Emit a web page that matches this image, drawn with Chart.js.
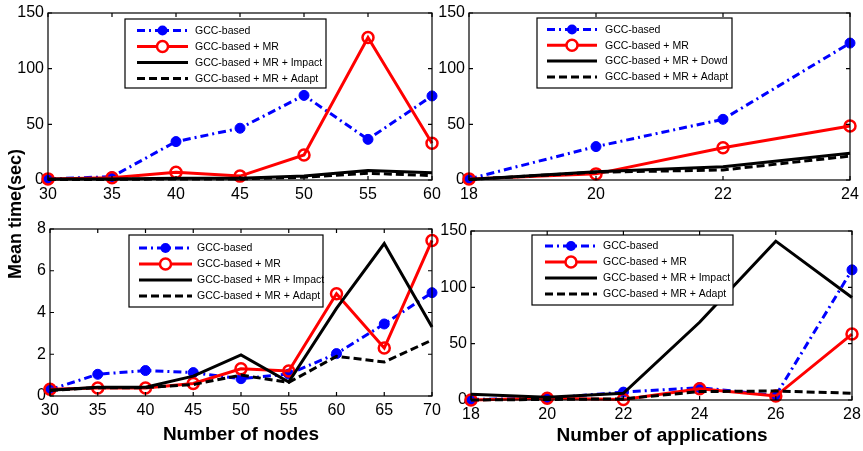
<!DOCTYPE html>
<html>
<head>
<meta charset="utf-8">
<script src="https://cdn.jsdelivr.net/npm/chart.js@4"></script>
<style>
  html, body { margin: 0; padding: 0; background: #fff; }
  #wrap { position: relative; width: 863px; height: 451px; }
  #wrap canvas { position: absolute; left: 0; top: 0; }
</style>
</head>
<body>
<div id="wrap">
  <canvas id="c1" width="863" height="451"></canvas>
  <canvas id="c2" width="863" height="451"></canvas>
  <canvas id="c3" width="863" height="451"></canvas>
  <canvas id="c4" width="863" height="451"></canvas>
</div>
<script>
// ---------- data ----------
const legendLabelsImpact = ["GCC-based", "GCC-based + MR", "GCC-based + MR + Impact", "GCC-based + MR + Adapt"];
const legendLabelsDowd = ["GCC-based", "GCC-based + MR", "GCC-based + MR + Dowd", "GCC-based + MR + Adapt"];

const yAxisTitle = "Mean time(sec)";
const xTitleNodes = "Number of nodes";
const xTitleApps = "Number of applications";

// top-left: nodes 30..60
const nodesTop = [30, 35, 40, 45, 50, 55, 60];
const tlGcc = [1, 3, 34.5, 46.5, 76, 36.5, 75.5];
const tlMr = [1, 2, 7, 3.5, 22.5, 128, 33];
const tlImpact = [1, 1, 1.5, 1.5, 3.5, 8.5, 6.5];
const tlAdapt = [0.5, 0.5, 1, 1, 2.5, 6, 4];

// top-right: applications 18..24
const appsTop = [18, 20, 22, 24];
const trGcc = [1, 30, 54.5, 123];
const trMr = [1, 5.5, 29, 48.5];
const trDowd = [0.5, 7.5, 12, 24];
const trAdapt = [0.5, 7, 9, 21.5];

// bottom-left: nodes 30..70
const nodesBottom = [30, 35, 40, 45, 50, 55, 60, 65, 70];
const blGcc = [0.3, 1.04, 1.22, 1.12, 0.83, 1.05, 2.03, 3.45, 4.95];
const blMr = [0.32, 0.38, 0.38, 0.6, 1.3, 1.2, 4.9, 2.3, 7.45];
const blImpact = [0.27, 0.42, 0.42, 0.95, 1.97, 0.67, 4.2, 7.3, 3.3];
const blAdapt = [0.27, 0.4, 0.4, 0.55, 1.0, 0.65, 1.9, 1.63, 2.68];

// bottom-right: applications 18..28
const appsBottom = [18, 20, 22, 24, 26, 28];
const brGcc = [0.5, 1.5, 7, 11, 4, 115.5];
const brMr = [0, 1.5, 0.5, 10, 3.5, 58.5];
const brImpact = [5, 2.5, 6, 69, 141, 91];
const brAdapt = [0, 0.5, 1, 7.5, 8, 6];

// ---------- styles ----------
const FONT = '"Liberation Sans", Arial, sans-serif';
const W = 863, H = 451;
const Y_W = 40, X_H = 30;

const seriesStyles = [
  { borderColor: '#0000ff', borderWidth: 3, borderDash: [8, 4, 2, 4],
    pointRadius: 5, pointBackgroundColor: '#0000ff', pointBorderColor: '#0000ff', pointBorderWidth: 1, order: 3 },
  { borderColor: '#ff0000', borderWidth: 3, borderDash: [],
    pointRadius: 5.5, pointBackgroundColor: 'rgba(0,0,0,0)', pointBorderColor: '#ff0000', pointBorderWidth: 2.5, order: 2 },
  { borderColor: '#000000', borderWidth: 3, borderDash: [],
    pointRadius: 0, order: 1 },
  { borderColor: '#000000', borderWidth: 3, borderDash: [8, 4],
    pointRadius: 0, order: 0 }
];

function makeDatasets(xs, seriesList, labels) {
  return seriesList.map((ys, i) => Object.assign({
    label: labels[i],
    data: xs.map((x, j) => ({ x: x, y: ys[j] })),
    fill: false,
    tension: 0,
    clip: false,
    pointHoverRadius: 0
  }, seriesStyles[i]));
}

function fixFit(kind, size) {
  return function (scale) {
    if (kind === 'y') scale.width = size; else scale.height = size;
    scale.paddingLeft = 0; scale.paddingRight = 0;
    scale.paddingTop = 0; scale.paddingBottom = 0;
  };
}

// frame + inward ticks
const framePlugin = {
  id: 'frame',
  afterDatasetsDraw(chart) {
    const ctx = chart.ctx, a = chart.chartArea;
    const xs = chart.scales.x, ys = chart.scales.y;
    ctx.save();
    ctx.strokeStyle = '#000';
    ctx.lineWidth = 1.2;
    ctx.strokeRect(a.left, a.top, a.right - a.left, a.bottom - a.top);
    const tl = 4;
    ctx.beginPath();
    xs.ticks.forEach(t => {
      const px = xs.getPixelForValue(t.value);
      ctx.moveTo(px, a.bottom); ctx.lineTo(px, a.bottom - tl);
      ctx.moveTo(px, a.top); ctx.lineTo(px, a.top + tl);
    });
    ys.ticks.forEach(t => {
      const py = ys.getPixelForValue(t.value);
      ctx.moveTo(a.left, py); ctx.lineTo(a.left + tl, py);
      ctx.moveTo(a.right, py); ctx.lineTo(a.right - tl, py);
    });
    ctx.stroke();
    ctx.restore();
  }
};

// in-plot boxed legend
const boxLegendPlugin = {
  id: 'boxLegend',
  afterDraw(chart, args, opts) {
    const b = opts.box;
    if (!b) return;
    const ctx = chart.ctx;
    ctx.save();
    ctx.fillStyle = '#fff';
    ctx.fillRect(b.left, b.top, b.right - b.left, b.bottom - b.top);
    ctx.strokeStyle = '#000';
    ctx.lineWidth = 1.2;
    ctx.strokeRect(b.left, b.top, b.right - b.left, b.bottom - b.top);
    ctx.font = '10.5px ' + FONT;
    ctx.textBaseline = 'middle';
    ctx.textAlign = 'left';
    chart.data.datasets.forEach((ds, i) => {
      const y = b.top + opts.rowStart + opts.rowStep * i;
      const x0 = b.left + opts.lineStart, x1 = b.left + opts.lineEnd;
      ctx.strokeStyle = ds.borderColor;
      ctx.lineWidth = ds.borderWidth;
      ctx.setLineDash(ds.borderDash || []);
      ctx.beginPath(); ctx.moveTo(x0, y); ctx.lineTo(x1, y); ctx.stroke();
      ctx.setLineDash([]);
      if (ds.pointRadius > 0) {
        const cx = (x0 + x1) / 2;
        ctx.beginPath();
        ctx.arc(cx, y, ds.pointRadius, 0, Math.PI * 2);
        if (ds.pointBackgroundColor !== 'rgba(0,0,0,0)') {
          ctx.fillStyle = ds.pointBackgroundColor; ctx.fill();
        } else {
          ctx.fillStyle = '#fff'; ctx.fill();
          ctx.strokeStyle = ds.pointBorderColor; ctx.lineWidth = ds.pointBorderWidth; ctx.stroke();
        }
      }
      ctx.fillStyle = '#000';
      ctx.fillText(ds.label, b.left + opts.textStart, y + 0.5);
    });
    ctx.restore();
  }
};

// free text titles
const titlesPlugin = {
  id: 'titles',
  afterDraw(chart, args, opts) {
    if (!opts.items) return;
    const ctx = chart.ctx;
    ctx.save();
    ctx.fillStyle = '#000';
    ctx.textAlign = 'center';
    ctx.textBaseline = 'middle';
    opts.items.forEach(it => {
      ctx.save();
      ctx.font = 'bold ' + it.size + 'px ' + FONT;
      ctx.translate(it.x, it.y);
      if (it.rotate) ctx.rotate(it.rotate);
      ctx.fillText(it.text, 0, 0);
      ctx.restore();
    });
    ctx.restore();
  }
};

function makeChart(id, cfg) {
  const area = cfg.area;
  return new Chart(document.getElementById(id), {
    type: 'line',
    data: { datasets: makeDatasets(cfg.xs, cfg.series, cfg.labels) },
    options: {
      responsive: false,
      animation: false,
      events: [],
      layout: { padding: { left: area.left - Y_W, top: area.top, right: W - area.right, bottom: H - area.bottom - X_H } },
      scales: {
        x: {
          type: 'linear', min: cfg.xMin, max: cfg.xMax,
          afterFit: fixFit('x', X_H),
          grid: { display: false, drawTicks: false },
          border: { display: false },
          ticks: { stepSize: cfg.xStep, autoSkip: false, maxRotation: 0, padding: 5,
                   color: '#000', font: { family: FONT, size: 16 } }
        },
        y: {
          type: 'linear', min: cfg.yMin, max: cfg.yMax,
          afterFit: fixFit('y', Y_W),
          grid: { display: false, drawTicks: false },
          border: { display: false },
          ticks: { stepSize: cfg.yStep, autoSkip: false, padding: 4,
                   color: '#000', font: { family: FONT, size: 16 } }
        }
      },
      plugins: {
        legend: { display: false },
        tooltip: { enabled: false },
        boxLegend: cfg.legend,
        titles: { items: cfg.titles || [] }
      }
    },
    plugins: [framePlugin, boxLegendPlugin, titlesPlugin]
  });
}

makeChart('c1', {
  area: { left: 48, top: 13, right: 432, bottom: 180 },
  xs: nodesTop, series: [tlGcc, tlMr, tlImpact, tlAdapt], labels: legendLabelsImpact,
  xMin: 30, xMax: 60, xStep: 5, yMin: 0, yMax: 150, yStep: 50,
  legend: { box: { left: 125, top: 19, right: 326, bottom: 88 }, rowStart: 11.5, rowStep: 16, lineStart: 12, lineEnd: 63, textStart: 70 },
  titles: [{ text: yAxisTitle, x: 16, y: 214, size: 18, rotate: -Math.PI / 2 }]
});

makeChart('c2', {
  area: { left: 469, top: 13, right: 850, bottom: 180 },
  xs: appsTop, series: [trGcc, trMr, trDowd, trAdapt], labels: legendLabelsDowd,
  xMin: 18, xMax: 24, xStep: 2, yMin: 0, yMax: 150, yStep: 50,
  legend: { box: { left: 537, top: 18, right: 732, bottom: 88 }, rowStart: 11.5, rowStep: 15.8, lineStart: 10, lineEnd: 60, textStart: 68 }
});

makeChart('c3', {
  area: { left: 50, top: 229, right: 432, bottom: 396 },
  xs: nodesBottom, series: [blGcc, blMr, blImpact, blAdapt], labels: legendLabelsImpact,
  xMin: 30, xMax: 70, xStep: 5, yMin: 0, yMax: 8, yStep: 2,
  legend: { box: { left: 129, top: 235, right: 323, bottom: 307 }, rowStart: 13, rowStep: 16, lineStart: 10, lineEnd: 63, textStart: 68 },
  titles: [{ text: xTitleNodes, x: 241, y: 435, size: 19 }]
});

makeChart('c4', {
  area: { left: 471, top: 231, right: 852, bottom: 400 },
  xs: appsBottom, series: [brGcc, brMr, brImpact, brAdapt], labels: legendLabelsImpact,
  xMin: 18, xMax: 28, xStep: 2, yMin: 0, yMax: 150, yStep: 50,
  legend: { box: { left: 532, top: 235, right: 733, bottom: 305 }, rowStart: 11, rowStep: 16, lineStart: 13, lineEnd: 65, textStart: 71 },
  titles: [{ text: xTitleApps, x: 662, y: 436, size: 19 }]
});
</script>
</body>
</html>
